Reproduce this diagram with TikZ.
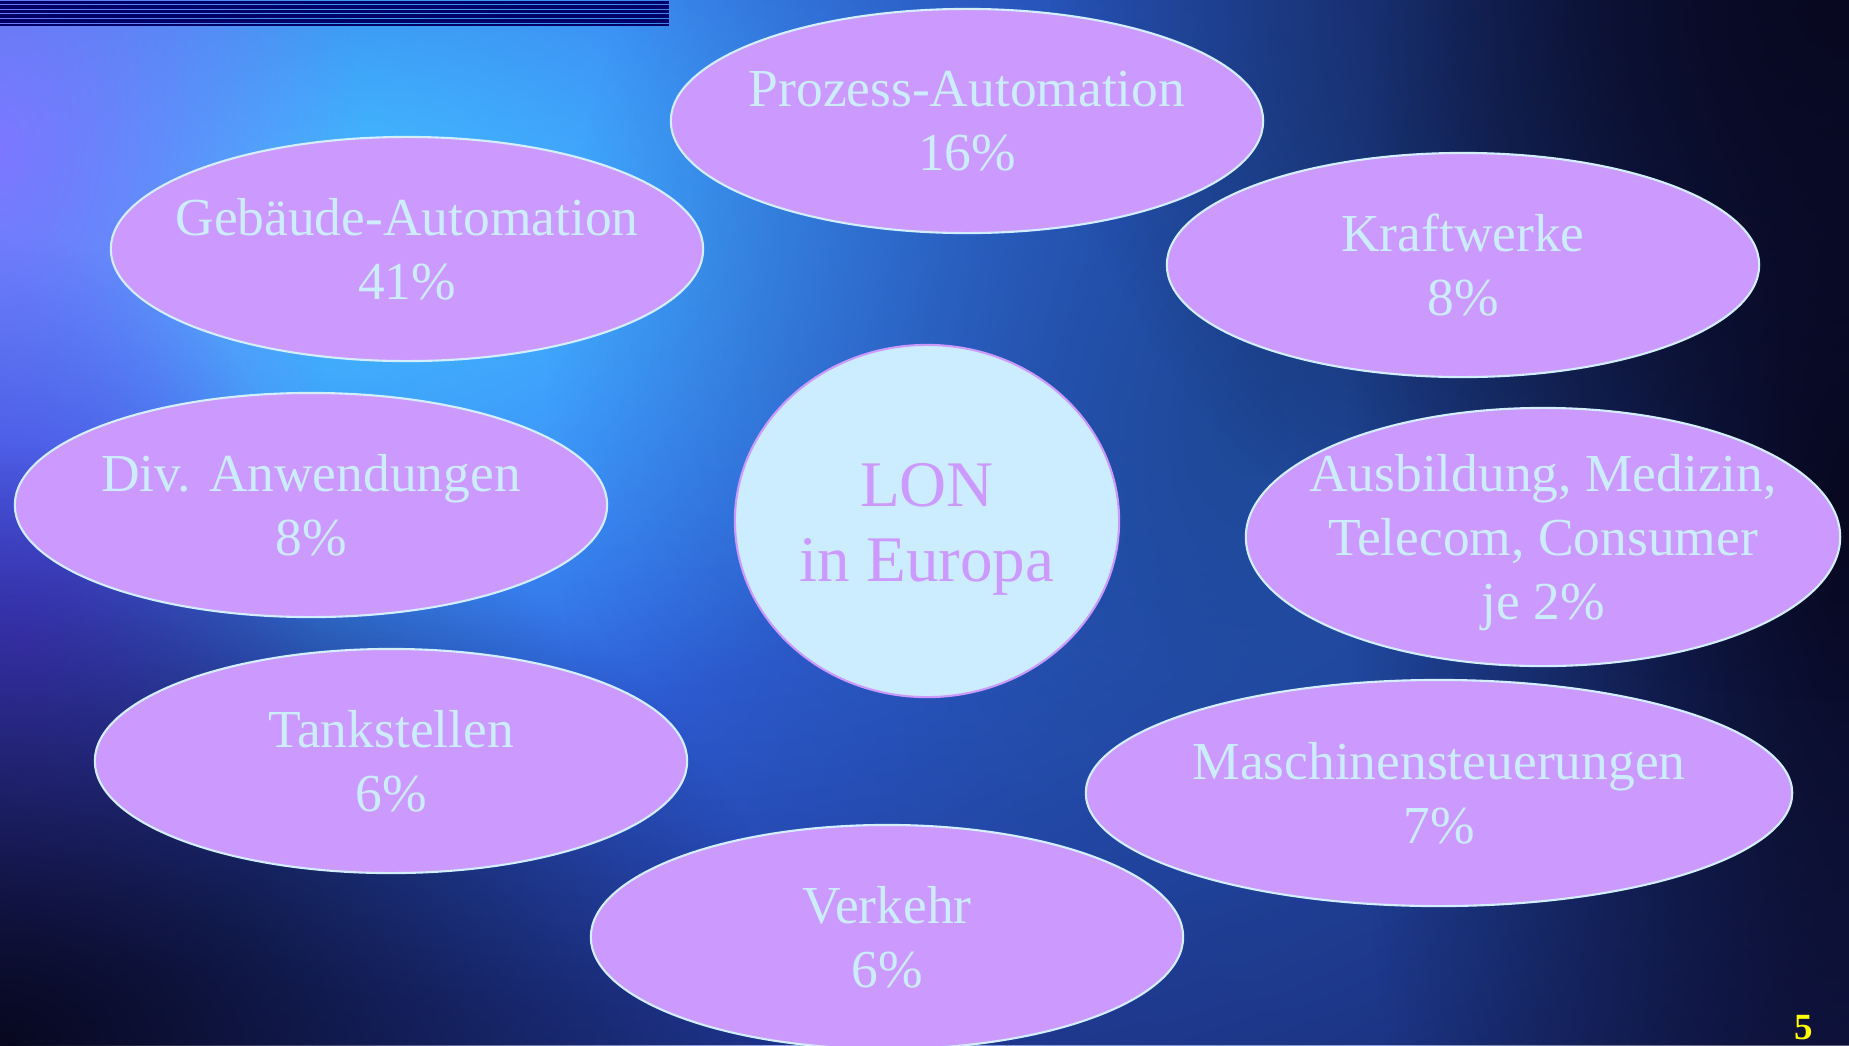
\documentclass[tikz,border=0pt]{standalone}
\usepackage{fontspec}
\setmainfont{Liberation Serif}
\usepackage{tikz}
\usetikzlibrary{shapes.geometric,fadings}
\definecolor{bgNavy}{RGB}{20,24,74}
\definecolor{bgBlue}{RGB}{46,90,230}
\definecolor{bgBright}{RGB}{60,124,255}
\definecolor{bgCyan}{RGB}{68,192,255}
\definecolor{bgLilac}{RGB}{124,120,255}
\definecolor{bgViolet}{RGB}{74,64,224}
\definecolor{bgTeal}{RGB}{30,72,150}
\definecolor{bgDeep}{RGB}{8,8,32}
\definecolor{stripeNavy}{RGB}{0,0,102}
\definecolor{bubFill}{RGB}{204,153,255}
\definecolor{bubEdge}{RGB}{210,238,255}
\definecolor{bubText}{RGB}{204,236,255}
\definecolor{hubFill}{RGB}{204,236,255}
\definecolor{numYellow}{RGB}{255,255,0}
\tikzfading[name=soft glow, inner color=transparent!0, outer color=transparent!100]
\tikzset{
  bubble/.style={ellipse, draw=bubEdge, fill=bubFill, line width=0.6pt,
                 inner sep=0pt, minimum width=5.92cm, minimum height=2.24cm},
  txt/.style={text=bubText, align=center, inner sep=0pt,
              font=\fontsize{15.2}{18.2}\selectfont},
  hub/.style={ellipse, draw=bubFill, fill=hubFill, line width=0.6pt,
              inner sep=0pt, minimum width=3.84cm, minimum height=3.52cm},
  hubtxt/.style={text=bubFill, align=center, inner sep=0pt,
                 font=\fontsize{18.5}{21.3}\selectfont},
  glow/.style={fill=#1, path fading=soft glow},
}

\begin{document}
\begin{tikzpicture}[x=0.01cm, y=-0.01cm]
\useasboundingbox (0,0) rectangle (1849,1045);

% background
\fill[bgNavy] (0,0) rectangle (1849,1045);
\fill[glow=bgBlue]   (650,380)  ellipse (19cm and 12cm);
\fill[glow=bgBright] (600,250)  ellipse (13cm and 7.6cm);
\fill[glow=bgCyan]   (330,230)  ellipse (7.6cm and 5.2cm);
\fill[glow=bgLilac]  (0,150)    ellipse (3.6cm and 5cm);
\fill[glow=bgViolet] (20,640)   ellipse (3cm and 4cm);
\fill[glow=bgTeal]   (1250,420) ellipse (7cm and 9cm);
\fill[glow=bgDeep]   (0,1045)   ellipse (8cm and 6cm);
\fill[glow=bgDeep]   (1849,500) ellipse (5cm and 14cm);
\fill[glow=bgDeep]   (1849,0)   ellipse (8cm and 7cm);

% header stripes
\foreach \a/\b in {1/4, 5/9, 10/12.7, 13.7/18, 19/23, 24/26}
  \fill[stripeNavy] (0,\a) rectangle (669,\b);

% bubbles
\node[bubble] (proz)  at (967,121)  {};
\node[bubble] (geb)   at (407,249)  {};
\node[bubble] (kraft) at (1463,265) {};
\node[bubble] (div)   at (311,505)  {};
\node[bubble, minimum width=5.94cm, minimum height=2.58cm] (ausb) at (1543,537) {};
\node[bubble] (tank)  at (391,761)  {};
\node[bubble, minimum width=7.06cm, minimum height=2.26cm] (masch) at (1439,793) {};
\node[bubble] (verk)  at (887,937)  {};

\node[txt] (prozT)  at (proz)  {Prozess-Automation\\16\%};
\node[txt] (gebT)   at (geb)   {Gebäude-Automation\\41\%};
\node[txt] (kraftT) at (kraft) {Kraftwerke\\8\%};
\node[txt] (divT)   at (div)   {Div. Anwendungen\\8\%};
\node[txt, yshift=-0.06cm] (ausbT) at (ausb) {Ausbildung, Medizin,\\Telecom, Consumer\\je 2\%};
\node[txt] (tankT)  at (tank)  {Tankstellen\\6\%};
\node[txt] (maschT) at (masch) {Maschinensteuerungen\\7\%};
\node[txt] (verkT)  at (verk)  {Verkehr\\6\%};

% centre
\node[hub] (lon) at (927,521) {};
\node[hubtxt, yshift=-0.08cm] (lonT) at (lon) {LON\\in Europa};

% page number
\node[anchor=base, inner sep=0pt, text=numYellow,
      font=\bfseries\fontsize{10.5}{12}\selectfont] (pnum) at (1804,1039) {5};
\end{tikzpicture}
\end{document}
